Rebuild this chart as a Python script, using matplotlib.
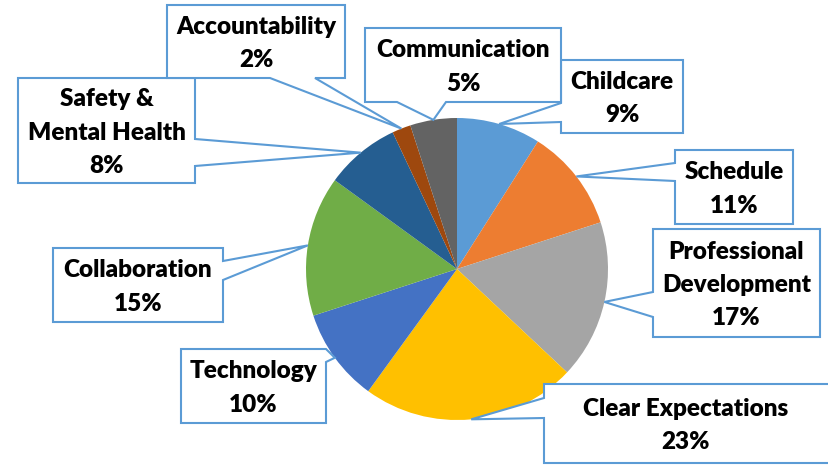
import numpy as np
import matplotlib
matplotlib.use('Agg')
import matplotlib.pyplot as plt
from matplotlib.patches import Polygon

labels = ['Childcare', 'Schedule', 'Professional\nDevelopment', 'Clear Expectations',
          'Technology', 'Collaboration', 'Safety &\nMental Health', 'Accountability',
          'Communication']
values = [9, 11, 17, 23, 10, 15, 8, 2, 5]
colors = ['#5B9BD5', '#ED7D31', '#A5A5A5', '#FFC000', '#4472C4',
          '#70AD47', '#255E91', '#9E480E', '#636363']

W, H = 829, 465
cx, cy, r = 457, 269, 151

# callout boxes in image pixels: (x0, y0, x1, y1), side of pointer, base start, base end
boxes = [
    ((561, 60, 683, 133), 'left', 103, 122),
    ((675, 150, 793, 224), 'left', 163, 181),
    ((653, 229, 820, 337), 'left', 292, 317),
    ((544, 384, 845, 463), 'left', 398, 418),
    ((181, 349, 326, 423), 'right', 349, 362),
    ((53, 248, 223, 322), 'right', 261, 280),
    ((18, 78, 195, 183), 'right', 139, 166),
    ((167, 5, 345, 78), 'bottom', 270, 315),
    ((365, 28, 561, 102), 'bottom', 397, 446),
]

plt.rcParams['font.family'] = ['Lato', 'DejaVu Sans']

fig = plt.figure(figsize=(W / 100, H / 100), dpi=100)
ax = fig.add_axes([0, 0, 1, 1])

def fy(y):
    return H - y

ax.pie(values, colors=colors, startangle=90, counterclock=False,
       center=(cx, fy(cy)), radius=r, wedgeprops=dict(linewidth=0),
       frame=True)
ax.set_xlim(0, W)
ax.set_ylim(0, H)
ax.set_aspect('equal')
ax.axis('off')

total = sum(values)
cum = np.cumsum([0] + values[:-1])
for i, (lab, v) in enumerate(zip(labels, values)):
    mid = (cum[i] + v / 2) / total * 2 * np.pi
    tx = cx + r * np.sin(mid)
    ty = cy - r * np.cos(mid)
    (x0, y0, x1, y1), side, b1, b2 = boxes[i]
    if side == 'left':
        pts = [(x0, y0), (x1, y0), (x1, y1), (x0, y1), (x0, b2), (tx, ty), (x0, b1)]
    elif side == 'right':
        pts = [(x0, y0), (x1, y0), (x1, b1), (tx, ty), (x1, b2), (x1, y1), (x0, y1)]
    else:
        pts = [(x0, y0), (x1, y0), (x1, y1), (b2, y1), (tx, ty), (b1, y1), (x0, y1)]
    pts = [(px, fy(py)) for px, py in pts]
    ax.add_patch(Polygon(pts, closed=True, facecolor='white', edgecolor='#5B9BD5',
                         linewidth=1.5, zorder=3))
    xc = (x0 + x1) / 2
    if i == 3:
        xc = 686
    ax.text(xc, fy((y0 + y1) / 2 + 2), f'{lab}\n{v}%', ha='center', va='center',
            fontsize=17.5, fontweight='heavy', linespacing=1.62, zorder=4)

fig.savefig('out.png', dpi=100)
